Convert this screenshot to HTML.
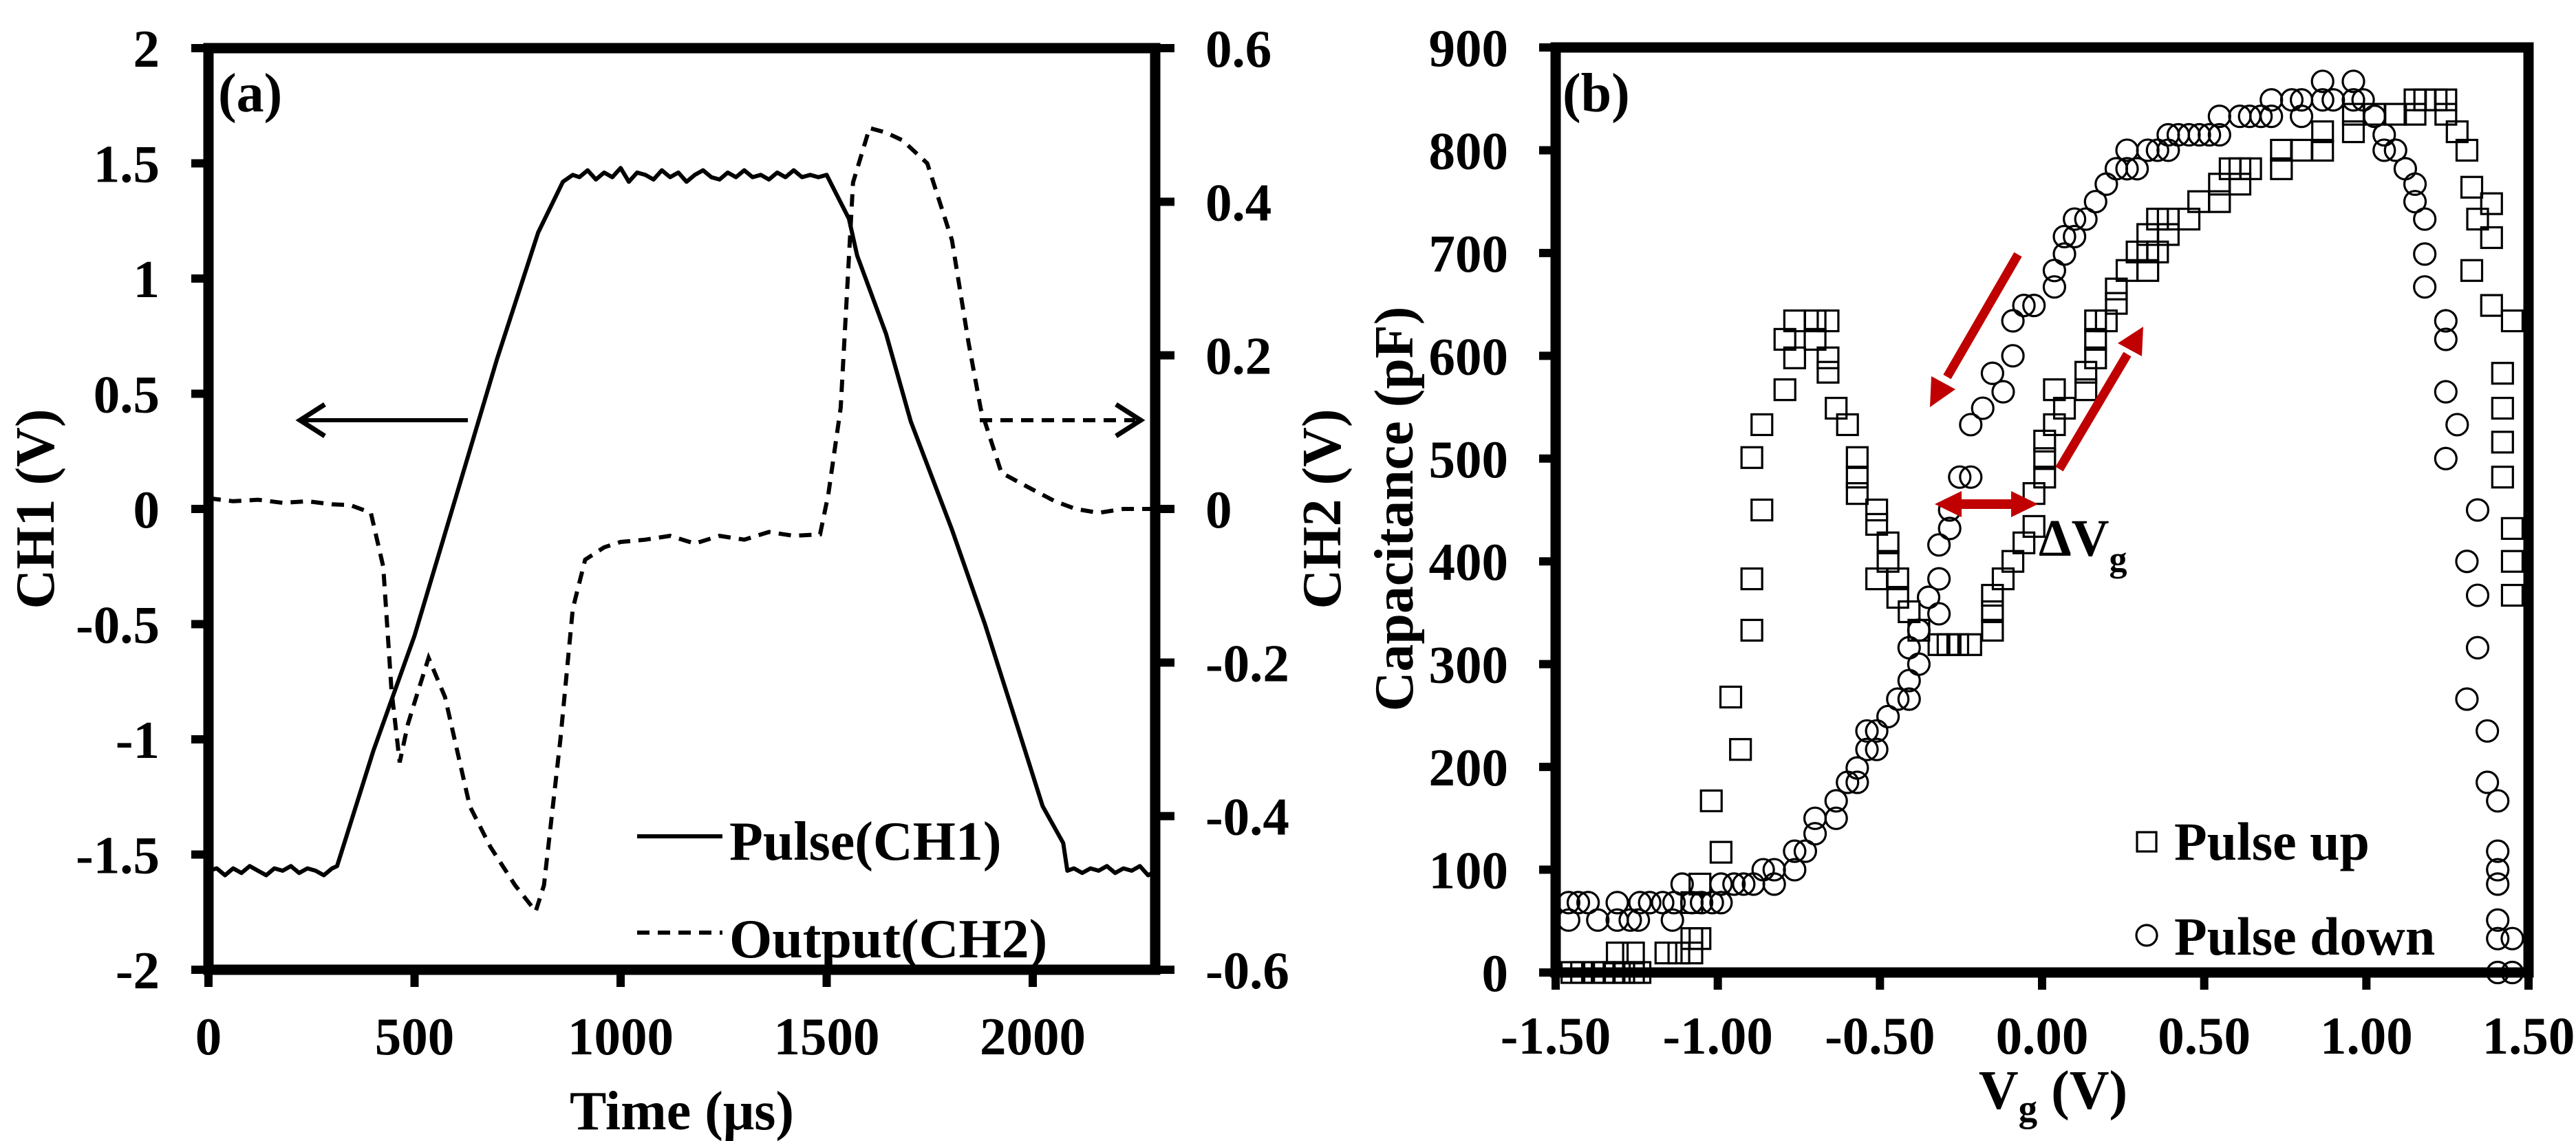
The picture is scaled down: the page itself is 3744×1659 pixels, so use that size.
<!DOCTYPE html>
<html><head><meta charset="utf-8"><style>
html,body{margin:0;padding:0;background:#fff;}
svg{display:block;}
text{font-family:"Liberation Serif","Times New Roman","DejaVu Serif",serif;font-weight:bold;fill:#000;}
</style></head><body>
<svg id="fig" width="3744" height="1659" viewBox="0 0 3744 1659" xmlns="http://www.w3.org/2000/svg" font-family="Liberation Serif, Times New Roman, DejaVu Serif, serif" font-weight="bold">
<g id="pa"></g>
<g id="pb"></g>
</svg>
<script>
// ---------- Panel (a) data ----------
const ch1Time = [0,20,40,60,80,100,120,140,160,180,200,220,240,260,280,300,312,400,500,600,700,800,860,884,
 900,920,940,960,980,1000,1020,1040,1060,1080,1100,1120,1140,1160,1180,1200,1220,1240,1260,1280,1300,1320,1340,1360,1380,1400,1420,1440,1460,1480,1500,
 1514,1554,1574,1644,1704,1804,1884,1964,2024,2074,2084,2100,2120,2140,2160,2180,2200,2220,2240,2260,2280,2300];
const ch1Volt = [-1.57,-1.56,-1.59,-1.56,-1.58,-1.55,-1.57,-1.59,-1.56,-1.57,-1.55,-1.58,-1.56,-1.57,-1.59,-1.56,-1.55,-1.05,-0.55,0.05,0.65,1.2,1.42,1.45,
 1.44,1.47,1.43,1.46,1.44,1.48,1.42,1.46,1.45,1.43,1.47,1.44,1.46,1.42,1.45,1.47,1.44,1.43,1.46,1.44,1.47,1.44,1.45,1.43,1.46,1.44,1.47,1.44,1.45,1.44,1.45,
 1.40,1.26,1.10,0.76,0.38,-0.09,-0.50,-0.95,-1.29,-1.45,-1.57,-1.56,-1.58,-1.56,-1.57,-1.55,-1.58,-1.56,-1.57,-1.55,-1.59,-1.57];
const ch2Time = [0,60,120,180,240,300,344,394,424,444,464,484,504,534,574,634,684,744,794,814,854,884,914,960,1000,1060,1120,1180,1240,1300,1360,1420,1484,1504,1534,1564,1604,1644,1684,1744,1804,1844,1874,1924,2004,2054,2104,2160,2220,2300];
const ch2Volt = [0.014,0.01,0.012,0.008,0.01,0.006,0.005,-0.005,-0.075,-0.236,-0.33,-0.28,-0.245,-0.194,-0.245,-0.387,-0.44,-0.49,-0.524,-0.49,-0.30,-0.13,-0.066,-0.05,-0.043,-0.04,-0.035,-0.045,-0.035,-0.04,-0.03,-0.035,-0.033,0.019,0.132,0.425,0.496,0.49,0.48,0.45,0.35,0.217,0.13,0.047,0.024,0.01,0,-0.005,0,0];
const aXTicks = [0,500,1000,1500,2000];
const aYTicks = [2,1.5,1,0.5,0,-0.5,-1,-1.5,-2];
const aYLabels = ["2","1.5","1","0.5","0","-0.5","-1","-1.5","-2"];
const aY2Ticks = [0.6,0.4,0.2,0,-0.2,-0.4,-0.6];
const aY2Labels = ["0.6","0.4","0.2","0","-0.2","-0.4","-0.6"];

// ---------- Panel (b) data ----------
const upV = [-1.45,-1.42,-1.38,-1.35,-1.32,-1.29,-1.26,-1.24,-1.31,-1.26,-1.16,-1.12,-1.08,-1.08,-1.055,-1.055,-1.08,-0.99,-1.02,-0.93,-0.96,-0.895,-0.895,-0.864,-0.895,-0.864,-0.793,-0.793,-0.763,-0.763,-0.70,-0.66,-0.70,-0.66,-0.66,-0.635,-0.60,-0.57,-0.57,-0.57,-0.51,-0.51,-0.475,-0.475,-0.51,-0.445,-0.445,-0.41,-0.38,-0.318,-0.29,-0.26,-0.22,-0.153,-0.153,-0.153,-0.12,-0.09,-0.056,-0.025,-0.025,0.008,0.008,0.008,0.038,0.038,0.069,0.135,0.135,0.165,0.165,0.165,0.198,0.229,0.229,0.262,0.293,0.326,0.326,0.326,0.356,0.356,0.389,0.389,0.453,0.483,0.547,0.547,0.58,0.61,0.61,0.643,0.738,0.738,0.80,0.865,0.865,0.96,0.96,1.025,1.09,1.15,1.15,1.18,1.215,1.245,1.245,1.28,1.31,1.325,1.343,1.386,1.386,1.325,1.386,1.45,1.42,1.42,1.42,1.42,1.45,1.45,1.45];
const upC = [0,0,0,0,0,0,0,0,19,19,19,19,19,33,33,86,68,117,167,217,268,333,383,450,501,533,567,616,598,634,634,634,616,598,584,549,533,501,482,466,450,436,418,400,383,383,365,351,333,319,319,319,319,333,351,367,383,400,418,434,466,482,500,517,533,567,549,567,584,598,616,634,634,651,665,683,701,683,701,718,701,733,733,718,733,750,750,767,782,767,782,782,782,800,800,800,818,818,835,835,835,835,849,849,849,849,835,818,800,764,733,748,715,683,649,634,583,549,516,482,432,400,367];
const dnV = [-1.46,-1.46,-1.43,-1.40,-1.37,-1.31,-1.31,-1.27,-1.245,-1.24,-1.21,-1.17,-1.14,-1.135,-1.11,-1.08,-1.05,-1.017,-0.99,-0.99,-0.95,-0.92,-0.89,-0.86,-0.826,-0.826,-0.763,-0.763,-0.73,-0.70,-0.70,-0.635,-0.635,-0.60,-0.57,-0.57,-0.54,-0.54,-0.51,-0.51,-0.475,-0.445,-0.41,-0.41,-0.38,-0.41,-0.38,-0.35,-0.318,-0.318,-0.318,-0.285,-0.285,-0.254,-0.22,-0.22,-0.183,-0.153,-0.12,-0.09,-0.09,-0.056,-0.025,0.038,0.038,0.069,0.069,0.10,0.10,0.135,0.165,0.198,0.229,0.262,0.262,0.293,0.326,0.356,0.389,0.389,0.42,0.453,0.485,0.516,0.547,0.547,0.61,0.64,0.675,0.707,0.707,0.77,0.80,0.80,0.865,0.865,0.898,0.96,0.96,0.99,1.025,1.055,1.055,1.09,1.12,1.15,1.15,1.18,1.18,1.18,1.245,1.245,1.245,1.28,1.245,1.343,1.31,1.343,1.343,1.31,1.373,1.373,1.405,1.405,1.405,1.405,1.405,1.405,1.45,1.405,1.45];
const dnC = [68,51,68,68,51,68,51,51,51,68,68,68,51,68,86,68,68,68,68,86,86,86,86,100,86,100,100,118,118,135,150,150,167,185,185,199,217,235,235,217,249,266,266,284,300,316,333,365,349,383,416,432,450,482,482,533,549,583,565,600,634,649,649,667,683,699,716,716,733,733,750,767,782,782,800,782,800,800,800,815,815,815,815,815,815,833,833,833,833,833,849,849,833,849,867,849,849,867,849,849,833,815,800,800,782,767,750,733,699,667,634,616,565,533,500,450,400,367,316,266,235,185,167,118,100,86,51,33,33,0,0];
const bXTicks = [-1.5,-1,-0.5,0,0.5,1,1.5];
const bXLabels = ["-1.50","-1.00","-0.50","0.00","0.50","1.00","1.50"];
const bYTicks = [0,100,200,300,400,500,600,700,800,900];
const bYLabels = ["0","100","200","300","400","500","600","700","800","900"];

const NS = "http://www.w3.org/2000/svg";
function el(parent, tag, attrs, txt){
  const e = document.createElementNS(NS, tag);
  for (const k in attrs) e.setAttribute(k, attrs[k]);
  if (txt !== undefined) e.textContent = txt;
  parent.appendChild(e);
  return e;
}
const FONT = 'Liberation Serif, Times New Roman, DejaVu Serif, serif';
function tx(parent, attrs, txt){
  attrs['font-family'] = FONT;
  attrs['font-weight'] = 'bold';
  return el(parent,'text',attrs,txt);
}
// axes functions
const aL=303, aR=1679, aT=70, aB=1410;
const ax = t => aL + (t - 0) / 500 * 299.5;
const ay = v => aT + (2 - v) / 4 * (aB - aT);
const ay2 = v => aT + (0.6 - v) / 1.2 * (aB - aT);
const bL=2261, bR=3675, bT=69, bB=1414;
const bx = v => bL + (v + 1.5) / 3 * (bR - bL);
const by = c => bB - c / 900 * (bB - bT);

const pa = document.getElementById('pa');
const pb = document.getElementById('pb');

// ---- Panel a ----
let p1 = ch1Time.map((t,i)=> (i?'L':'M') + ax(t).toFixed(1) + ' ' + ay(ch1Volt[i]).toFixed(1)).join(' ');
let s1 = el(pa,'path',{d:p1,fill:'none',stroke:'#000','stroke-width':6,'stroke-linejoin':'round'});


let p2 = ch2Time.map((t,i)=> (i?'L':'M') + ax(t).toFixed(1) + ' ' + ay2(ch2Volt[i]).toFixed(1)).join(' ');
let s2 = el(pa,'path',{d:p2,fill:'none',stroke:'#000','stroke-width':6,'stroke-dasharray':'18 12'});



let fa = el(pa,'rect',{x:aL,y:aT,width:aR-aL,height:aB-aT,fill:'none',stroke:'#000','stroke-width':15});


aYTicks.forEach((v,i)=>{
  el(pa,'line',{x1:aL-25,x2:aL,y1:ay(v),y2:ay(v),stroke:'#000','stroke-width':12});
  let t = tx(pa,{x:232,y:ay(v)+27,'text-anchor':'end','font-size':77},aYLabels[i]);
  
  
});
aY2Ticks.forEach((v,i)=>{
  el(pa,'line',{x1:aR,x2:aR+28,y1:ay2(v),y2:ay2(v),stroke:'#000','stroke-width':12});
  let t = tx(pa,{x:1752,y:ay2(v)+27,'text-anchor':'start','font-size':77},aY2Labels[i]);
  
  
});
aXTicks.forEach(v=>{
  el(pa,'line',{x1:ax(v),x2:ax(v),y1:aB,y2:aB+25,stroke:'#000','stroke-width':12});
  let t = tx(pa,{x:ax(v),y:1533,'text-anchor':'middle','font-size':77},String(v));
  
  
});
// titles
let txa = tx(pa,{x:991,y:1642,'text-anchor':'middle','font-size':80},'Time (μs)');


let ty = tx(pa,{x:0,y:0,'text-anchor':'middle','font-size':80,transform:'translate(78,740) rotate(-90)'},'CH1 (V)');


let ty2 = tx(pa,{x:0,y:0,'text-anchor':'middle','font-size':80,transform:'translate(1948,740) rotate(-90)'},'CH2 (V)');


let la = tx(pa,{x:317,y:162,'font-size':80},'(a)');


// arrows
let ar1 = el(pa,'g',{});


el(ar1,'line',{x1:680,y1:611,x2:440,y2:611,stroke:'#000','stroke-width':6});
el(ar1,'polyline',{points:'472,588 436,611 472,634',fill:'none',stroke:'#000','stroke-width':7});
let ar2 = el(pa,'g',{});


el(ar2,'line',{x1:1424,y1:611,x2:1650,y2:611,stroke:'#000','stroke-width':6,'stroke-dasharray':'18 12'});
el(ar2,'polyline',{points:'1622,588 1658,611 1622,634',fill:'none',stroke:'#000','stroke-width':7});
// legend a
let lg1 = el(pa,'g',{});


el(lg1,'line',{x1:926,x2:1050,y1:1216,y2:1216,stroke:'#000','stroke-width':6});
tx(lg1,{x:1060,y:1250,'font-size':80},'Pulse(CH1)');
let lg2 = el(pa,'g',{});


el(lg2,'line',{x1:926,x2:1050,y1:1356,y2:1356,stroke:'#000','stroke-width':6,'stroke-dasharray':'18 12'});
tx(lg2,{x:1060,y:1392,'font-size':80},'Output(CH2)');

// ---- Panel b ----
upV.forEach((v,i)=>{
  let r = el(pb,'rect',{x:bx(v)-15,y:by(upC[i])-15,width:30,height:30,fill:'none',stroke:'#000','stroke-width':3.2});
  
  
});
dnV.forEach((v,i)=>{
  let c = el(pb,'circle',{cx:bx(v),cy:by(dnC[i]),r:15.5,fill:'none',stroke:'#000','stroke-width':3.2});
  
  
});
let fb = el(pb,'rect',{x:bL,y:bT,width:bR-bL,height:bB-bT,fill:'none',stroke:'#000','stroke-width':15});


bYTicks.forEach((v,i)=>{
  el(pb,'line',{x1:bL-24,x2:bL,y1:by(v),y2:by(v),stroke:'#000','stroke-width':12});
  let t = tx(pb,{x:2192,y:by(v)+27,'text-anchor':'end','font-size':77},bYLabels[i]);
  
  
});
bXTicks.forEach((v,i)=>{
  el(pb,'line',{x1:bx(v),x2:bx(v),y1:bB,y2:bB+25,stroke:'#000','stroke-width':12});
  let t = tx(pb,{x:bx(v),y:1532,'text-anchor':'middle','font-size':77},bXLabels[i]);
  
  
});
let tbx = tx(pb,{x:2984,y:1612,'text-anchor':'middle','font-size':80});


tbx.innerHTML = 'V<tspan font-size="55" dy="18">g</tspan><tspan dy="-18"> (V)</tspan>';
let tby = tx(pb,{x:0,y:0,'text-anchor':'middle','font-size':80,transform:'translate(2053,740) rotate(-90)'},'Capacitance (pF)');


let lb = tx(pb,{x:2271,y:162,'font-size':80},'(b)');


// red arrows
const RED = '#c00000';
let ra1 = el(pb,'g',{});


el(ra1,'line',{x1:2933,y1:370,x2:2830,y2:548,stroke:RED,'stroke-width':13});
el(ra1,'polygon',{points:'2805,592 2807,547 2842,566',fill:RED});
let ra2 = el(pb,'g',{});


el(ra2,'line',{x1:2993,y1:682,x2:3092,y2:515,stroke:RED,'stroke-width':13});
el(ra2,'polygon',{points:'3115,475 3113,518 3078,499',fill:RED});
let ra3 = el(pb,'g',{});


el(ra3,'line',{x1:2845,y1:733,x2:2930,y2:733,stroke:RED,'stroke-width':14});
el(ra3,'polygon',{points:'2812,733 2851,714 2851,752',fill:RED});
el(ra3,'polygon',{points:'2962,733 2923,714 2923,752',fill:RED});
let dv = tx(pb,{x:2963,y:808,'font-size':76});


dv.innerHTML = 'ΔV<tspan font-size="52" dy="22">g</tspan>';
// legend b
let lb1 = el(pb,'g',{});


el(lb1,'rect',{x:3106,y:1210,width:28,height:28,fill:'none',stroke:'#000','stroke-width':3.2});
tx(lb1,{x:3160,y:1250,'font-size':78},'Pulse up');
let lb2 = el(pb,'g',{});


el(lb2,'circle',{cx:3120,cy:1360,r:15,fill:'none',stroke:'#000','stroke-width':3.2});
tx(lb2,{x:3160,y:1388,'font-size':78},'Pulse down');
</script>
</body></html>
